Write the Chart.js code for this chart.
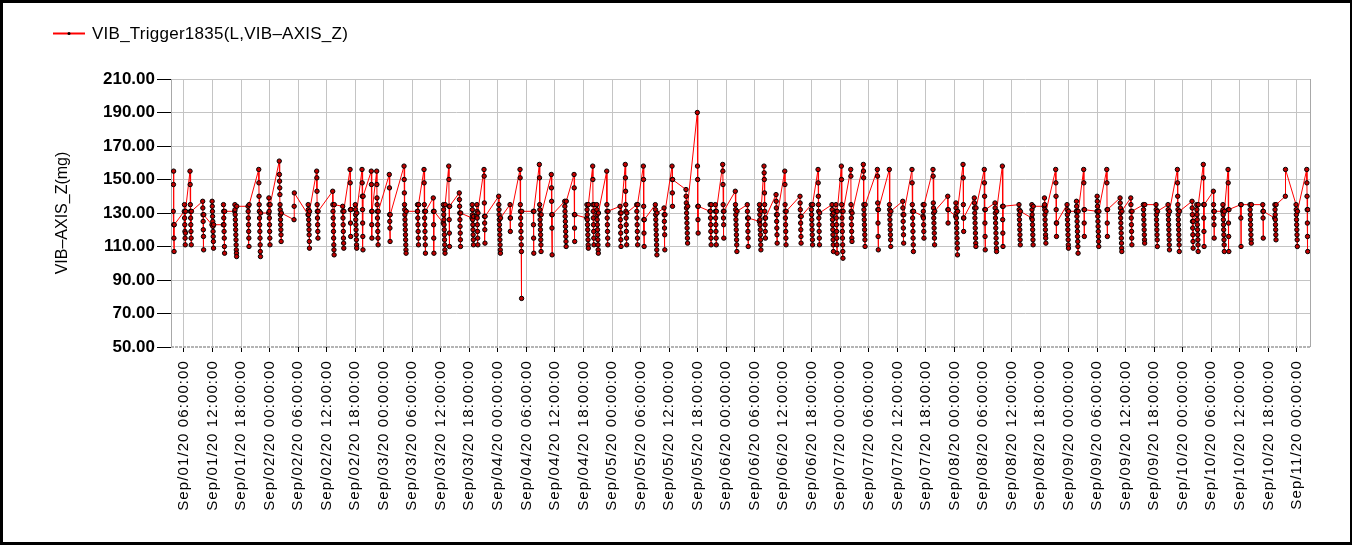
<!DOCTYPE html>
<html lang="en">
  <head>
    <meta charset="UTF-8" />
    <title>VIB_Trigger1835 - VIB-AXIS_Z</title>
    <script src="https://cdn.jsdelivr.net/npm/chart.js"></script>
    <style>
      body { margin: 0; background: #fff; }
      .wrap { position: relative; width: 1352px; height: 545px; }
      .wrap canvas { display: block; }
      .frame {
        position: absolute;
        inset: 0;
        border-style: solid;
        border-color: #000;
        border-width: 3px 2px 3px 3px;
        pointer-events: none;
      }
    </style>
  </head>
  <body>
    <div class="wrap">
      <canvas id="vibChart" width="1352" height="545"></canvas>
      <div class="frame"></div>
    </div>

    <script>
      const seriesLabel = "VIB_Trigger1835(L,VIB–AXIS_Z)";
      const yTitle = "VIB–AXIS_Z(mg)";

      // start of each trigger burst (month/day hour:minute, 2020)
      const burstStart = [
        "09/01 03:45", "09/01 06:04", "09/01 07:16", "09/01 09:56", "09/01 11:53", "09/01 14:16", "09/01 16:40", "09/01 19:28", "09/01 21:43", "09/01 23:49",
        "09/02 02:02", "09/02 05:08", "09/02 08:05", "09/02 09:54", "09/02 13:16", "09/02 15:22", "09/02 16:55", "09/02 18:01", "09/02 19:26", "09/02 21:23", "09/02 22:31",
        "09/03 01:10", "09/03 04:16", "09/03 07:04", "09/03 08:28", "09/03 10:25", "09/03 12:31", "09/03 13:40", "09/03 15:53", "09/03 18:34", "09/03 19:33", "09/03 21:05",
        "09/04 00:10", "09/04 02:33", "09/04 04:39", "09/04 07:27", "09/04 08:43", "09/04 11:14", "09/04 14:03", "09/04 16:01", "09/04 18:41", "09/04 19:56", "09/04 20:47", "09/04 22:53",
        "09/05 01:41", "09/05 02:47", "09/05 05:11", "09/05 06:35", "09/05 09:06", "09/05 10:56", "09/05 12:37", "09/05 15:33", "09/05 17:56", "09/05 20:36", "09/05 21:43", "09/05 23:16",
        "09/06 01:55", "09/06 04:26", "09/06 06:58", "09/06 07:57", "09/06 10:29", "09/06 12:19", "09/06 15:31", "09/06 17:54", "09/06 19:19", "09/06 22:15", "09/06 23:05",
        "09/07 00:13", "09/07 02:11", "09/07 04:50", "09/07 07:47", "09/07 10:18", "09/07 13:07", "09/07 15:04", "09/07 17:23", "09/07 19:29", "09/07 22:35",
        "09/08 00:16", "09/08 01:48", "09/08 04:10", "09/08 06:16", "09/08 08:31", "09/08 10:04", "09/08 13:34", "09/08 16:14", "09/08 18:53", "09/08 21:17", "09/08 23:40",
        "09/09 01:37", "09/09 03:10", "09/09 05:58", "09/09 08:01", "09/09 10:49", "09/09 13:04", "09/09 15:43", "09/09 18:23", "09/09 20:54", "09/09 22:52",
        "09/10 01:57", "09/10 02:56", "09/10 04:19", "09/10 06:26", "09/10 08:24", "09/10 09:31", "09/10 12:11", "09/10 14:08", "09/10 16:49", "09/10 19:20", "09/10 21:34", "09/10 23:49",
        "09/11 02:04"
      ];

      // readings (mg) inside each burst, in order
      const burstValues = [
        [131, 147, 155, 123, 115, 107, 123],
        [131, 135, 127, 123, 119, 115, 111, 118, 131],
        [155, 147, 135, 131, 127, 123, 119, 115, 111, 131],
        [137, 133, 129, 125, 120, 116, 108, 129],
        [123, 137, 134, 131, 128, 125, 122, 119, 116, 113, 109, 123],
        [123, 135, 131, 127, 123, 119, 115, 110, 106, 131],
        [131, 135, 132, 129, 126, 123, 120, 117, 114, 111, 108, 106, 104, 134],
        [134, 131, 127, 123, 119, 115, 110, 135],
        [156, 148, 140, 135, 131, 127, 123, 119, 115, 111, 107, 104, 130],
        [130, 139, 135, 131, 127, 123, 119, 115, 111, 135],
        // Sep 02
        [161, 153, 149, 145, 141, 135, 132, 129, 126, 123, 120, 117, 113, 130],
        [126, 134, 142],
        [129, 135, 132, 129, 126, 123, 120, 117, 113, 109, 131],
        [155, 151, 143, 135, 131, 127, 123, 119, 115, 131],
        [143, 135, 131, 127, 123, 119, 115, 111, 108, 105, 135],
        [134, 131, 127, 123, 119, 115, 112, 109, 131],
        [156, 148, 132, 124, 116, 132],
        [135, 132, 129, 126, 123, 120, 117, 114, 111, 109, 130],
        [156, 148, 140, 132, 124, 116, 108, 140],
        [155, 147, 131, 123, 115, 131],
        [155, 147, 139, 135, 131, 127, 123, 119, 115, 111, 131],
        // Sep 03
        [153, 145, 129, 125, 121, 113, 129],
        [158, 150, 142, 135, 132, 129, 126, 123, 120, 117, 114, 111, 108, 106, 131],
        [131, 135, 131, 127, 123, 119, 115, 111, 135],
        [156, 148, 135, 131, 127, 123, 119, 115, 111, 106, 131],
        [139, 131, 123, 115, 106, 131],
        [124, 135, 132, 129, 126, 123, 120, 117, 114, 111, 108, 106, 135],
        [158, 150, 134, 126, 118, 110, 134],
        [142, 138, 134, 130, 126, 122, 118, 114, 110, 130],
        [127, 135, 132, 129, 126, 123, 120, 117, 114, 111, 128],
        [128, 135, 131, 127, 123, 119, 115, 111, 130],
        [156, 152, 136, 128, 124, 120, 112, 128],
        // Sep 04
        [140, 135, 132, 129, 126, 123, 120, 117, 114, 111, 108, 106, 127],
        [135, 127, 119, 127],
        [156, 151, 135, 131, 127, 123, 119, 115, 111, 107, 79, 131],
        [131, 123, 115, 106, 131],
        [159, 151, 135, 132, 129, 126, 123, 120, 117, 114, 111, 107, 129],
        [153, 145, 137, 129, 121, 105, 129],
        [137, 134, 131, 128, 125, 122, 119, 116, 113, 110, 137],
        [153, 145, 129, 121, 113, 129],
        [127, 135, 132, 129, 126, 123, 120, 117, 114, 111, 109, 135],
        [158, 150, 135, 131, 127, 123, 119, 115, 111, 135],
        [135, 132, 129, 126, 123, 120, 117, 114, 111, 108, 106, 130],
        [155, 135, 131, 127, 123, 119, 115, 111, 131],
        // Sep 05
        [134, 130, 126, 122, 118, 114, 110, 130],
        [159, 151, 143, 135, 131, 127, 123, 119, 115, 111, 130],
        [135, 131, 127, 123, 119, 115, 111, 135],
        [158, 150, 134, 126, 118, 110, 126],
        [135, 132, 129, 126, 123, 120, 117, 114, 111, 108, 105, 130],
        [133, 129, 125, 121, 117, 108, 129],
        [158, 150, 142, 134, 150],
        [144, 140, 136, 133, 130, 127, 124, 121, 118, 115, 112, 134],
        [190, 158, 150, 134, 126, 118, 134],
        [131, 135, 131, 127, 123, 119, 115, 111, 135],
        [135, 131, 127, 123, 119, 115, 111, 131],
        [159, 155, 147, 135, 131, 127, 123, 115, 131],
        // Sep 06
        [143, 135, 132, 129, 126, 123, 120, 117, 114, 111, 107, 131],
        [135, 131, 127, 123, 119, 115, 110, 127],
        [125, 135, 132, 129, 126, 123, 120, 117, 114, 111, 108, 131],
        [158, 154, 150, 142, 135, 131, 127, 123, 119, 115, 127],
        [141, 137, 133, 129, 125, 121, 117, 112, 129],
        [155, 147, 135, 131, 127, 123, 119, 115, 111, 131],
        [140, 136, 132, 128, 124, 120, 116, 112, 128],
        [135, 132, 129, 126, 123, 120, 117, 114, 111, 135],
        [156, 148, 140, 135, 131, 127, 123, 119, 115, 111, 130],
        [135, 132, 129, 126, 123, 120, 117, 114, 111, 107, 130],
        [135, 131, 127, 123, 119, 115, 111, 106, 131],
        // Sep 07
        [158, 150, 135, 131, 127, 123, 119, 115, 111, 107, 103, 131],
        [156, 152, 135, 131, 127, 123, 119, 115, 113, 130],
        [159, 155, 151, 135, 132, 129, 126, 123, 120, 117, 114, 110, 135],
        [156, 152, 136, 132, 124, 116, 108, 132],
        [156, 135, 132, 129, 126, 123, 120, 117, 114, 110, 131],
        [137, 133, 129, 125, 121, 117, 112, 129],
        [156, 148, 135, 131, 127, 123, 119, 115, 111, 107, 131],
        [128, 135, 131, 127, 123, 119, 115, 135],
        [156, 152, 136, 133, 130, 127, 124, 121, 118, 115, 111, 131],
        [140, 132, 124, 132],
        // Sep 08
        [128, 136, 133, 130, 127, 124, 121, 118, 115, 112, 109, 105, 131],
        [159, 151, 135, 127, 119, 127],
        [139, 136, 133, 130, 127, 124, 121, 118, 115, 112, 110, 133],
        [156, 148, 140, 132, 124, 116, 108, 132],
        [136, 133, 130, 127, 124, 121, 118, 115, 112, 109, 107, 131],
        [158, 134, 126, 118, 110, 134],
        [135, 132, 129, 126, 123, 120, 117, 114, 111, 131],
        [127, 135, 132, 129, 126, 123, 120, 117, 114, 111, 134],
        [134, 139, 135, 132, 129, 126, 123, 120, 117, 115, 112, 131],
        [156, 148, 140, 132, 124, 116, 124],
        [135, 132, 129, 126, 123, 120, 117, 114, 111, 109, 131],
        // Sep 09
        [131, 137, 134, 131, 128, 125, 122, 119, 116, 113, 110, 106, 131],
        [156, 148, 132, 124, 116, 132],
        [131, 140, 137, 134, 131, 128, 125, 122, 119, 116, 113, 110, 131],
        [156, 148, 132, 124, 116, 132],
        [139, 136, 133, 130, 127, 124, 121, 118, 115, 112, 109, 107, 131],
        [139, 135, 131, 127, 123, 119, 115, 111, 131],
        [135, 132, 129, 126, 123, 120, 117, 114, 112, 135],
        [135, 132, 129, 126, 123, 120, 117, 114, 110, 131],
        [135, 132, 129, 126, 123, 120, 117, 114, 111, 108, 131],
        [156, 148, 140, 135, 132, 129, 126, 123, 120, 117, 114, 111, 107, 131],
        // Sep 10
        [137, 133, 129, 125, 121, 117, 113, 109, 125],
        [135, 132, 129, 126, 123, 120, 117, 114, 111, 107, 135],
        [159, 151, 135, 127, 119, 110, 135],
        [143, 135, 131, 127, 123, 115, 131],
        [131, 135, 132, 129, 126, 123, 120, 117, 114, 111, 107, 131],
        [156, 148, 132, 124, 116, 107, 132],
        [135, 127, 110, 135],
        [135, 132, 129, 126, 123, 120, 117, 114, 112, 135],
        [135, 131, 127, 115, 131],
        [127, 135, 132, 129, 126, 123, 120, 117, 114, 135],
        [140, 156],
        [135, 132, 129, 126, 123, 120, 117, 114, 110, 131],
        // Sep 11
        [156, 148, 140, 132, 124, 116, 107, 132]
      ];

      const yMin = 50;
      const yMax = 210;
      const yStep = 20;
      const xStepHours = 6;

      // "MM/DD HH:mm" -> hours since Sep 01 00:00
      function toHours(s) {
        const [md, hm] = s.split(" ");
        const day = Number(md.split("/")[1]);
        const [h, m] = hm.split(":").map(Number);
        return (day - 1) * 24 + h + m / 60;
      }

      function pad2(n) {
        return String(n).padStart(2, "0");
      }

      // samples inside a burst are two minutes apart
      const points = [];
      burstStart.forEach((s, i) => {
        const t0 = toHours(s);
        burstValues[i].forEach((v, j) => {
          points.push({ x: t0 + (j * 2) / 60, y: v });
        });
      });

      const axisFont = "Arial, 'Liberation Sans', sans-serif";

      // right edge and dotted floor of the plot frame
      const plotEdge = {
        id: "plotEdge",
        beforeDatasetsDraw(chart) {
          const { ctx, chartArea } = chart;
          ctx.save();
          ctx.strokeStyle = "#a8a8a8";
          ctx.lineWidth = 1;
          ctx.beginPath();
          ctx.moveTo(chartArea.right + 0.5, chartArea.top);
          ctx.lineTo(chartArea.right + 0.5, chartArea.bottom);
          ctx.stroke();
          ctx.strokeStyle = "#b4b4b4";
          ctx.lineWidth = 2;
          ctx.setLineDash([3, 1]);
          ctx.beginPath();
          ctx.moveTo(chartArea.left, chartArea.bottom);
          ctx.lineTo(chartArea.right, chartArea.bottom);
          ctx.stroke();
          ctx.restore();
        },
      };

      // the x labels are set a little wider, as in the source plot
      const spacedXLabels = {
        id: "spacedXLabels",
        beforeDraw(chart) {
          const xs = chart.scales.x;
          if (xs._spaced) return;
          const orig = xs.drawLabels.bind(xs);
          xs.drawLabels = (area) => {
            chart.ctx.save();
            chart.ctx.letterSpacing = "1.1px";
            orig(area);
            chart.ctx.restore();
          };
          xs._spaced = true;
        },
      };

      // legend: red line with a black dot, then the series name
      const lineLegend = {
        id: "lineLegend",
        afterDraw(chart) {
          const ctx = chart.ctx;
          const ds = chart.data.datasets[0];
          ctx.save();
          ctx.strokeStyle = ds.borderColor;
          ctx.lineWidth = 2;
          ctx.beginPath();
          ctx.moveTo(53, 33.5);
          ctx.lineTo(85, 33.5);
          ctx.stroke();
          ctx.fillStyle = "#000";
          ctx.beginPath();
          ctx.arc(69, 33.5, 1.5, 0, Math.PI * 2);
          ctx.fill();
          ctx.font = "17px " + axisFont;
          ctx.letterSpacing = "0.25px";
          ctx.textBaseline = "middle";
          ctx.fillText(ds.label, 92, 34);
          ctx.restore();
        },
      };

      const ctx = document.getElementById("vibChart").getContext("2d");
      const vibChart = new Chart(ctx, {
        type: "line",
        data: {
          datasets: [
            {
              label: seriesLabel,
              data: points,
              borderColor: "#ff0000",
              borderWidth: 1,
              tension: 0,
              pointRadius: 2.2,
              pointBorderWidth: 1,
              pointBorderColor: "#000000",
              pointBackgroundColor: "#c00000",
            },
          ],
        },
        options: {
          responsive: false,
          animation: false,
          devicePixelRatio: 1,
          layout: {
            padding: { left: 0, top: 79, right: 42, bottom: 0 },
          },
          plugins: {
            legend: { display: false },
            tooltip: { enabled: false },
          },
          scales: {
            x: {
              type: "linear",
              min: 3.27,
              max: 242.75,
              afterFit(scale) {
                scale.height = 198;
              },
              border: { display: false },
              grid: {
                color: "#c4c4c4",
                tickColor: "#000000",
                tickLength: 5,
              },
              ticks: {
                stepSize: xStepHours,
                includeBounds: false,
                autoSkip: false,
                minRotation: 90,
                maxRotation: 90,
                padding: 8,
                color: "#000",
                font: { family: axisFont, size: 15 },
                callback: (v) => {
                  const day = Math.floor(v / 24) + 1;
                  const hour = Math.round(v % 24);
                  return "Sep/" + pad2(day) + "/20 " + pad2(hour) + ":00:00";
                },
              },
            },
            y: {
              min: yMin,
              max: yMax,
              afterFit(scale) {
                scale.width = 171;
              },
              border: { color: "#a8a8a8" },
              grid: {
                color: (c) => (c.tick && c.tick.value === yMin ? "rgba(0,0,0,0)" : "#c4c4c4"),
                tickColor: "#000000",
                tickLength: 14,
              },
              ticks: {
                stepSize: yStep,
                padding: 2,
                color: "#000",
                font: { family: axisFont, size: 17, weight: "bold" },
                callback: (v) => v.toFixed(2),
              },
              title: {
                display: true,
                text: yTitle,
                color: "#000",
                font: { family: axisFont, size: 16 },
                padding: { top: 53, bottom: 0 },
              },
            },
          },
        },
        plugins: [plotEdge, spacedXLabels, lineLegend],
      });
    </script>
  </body>
</html>
